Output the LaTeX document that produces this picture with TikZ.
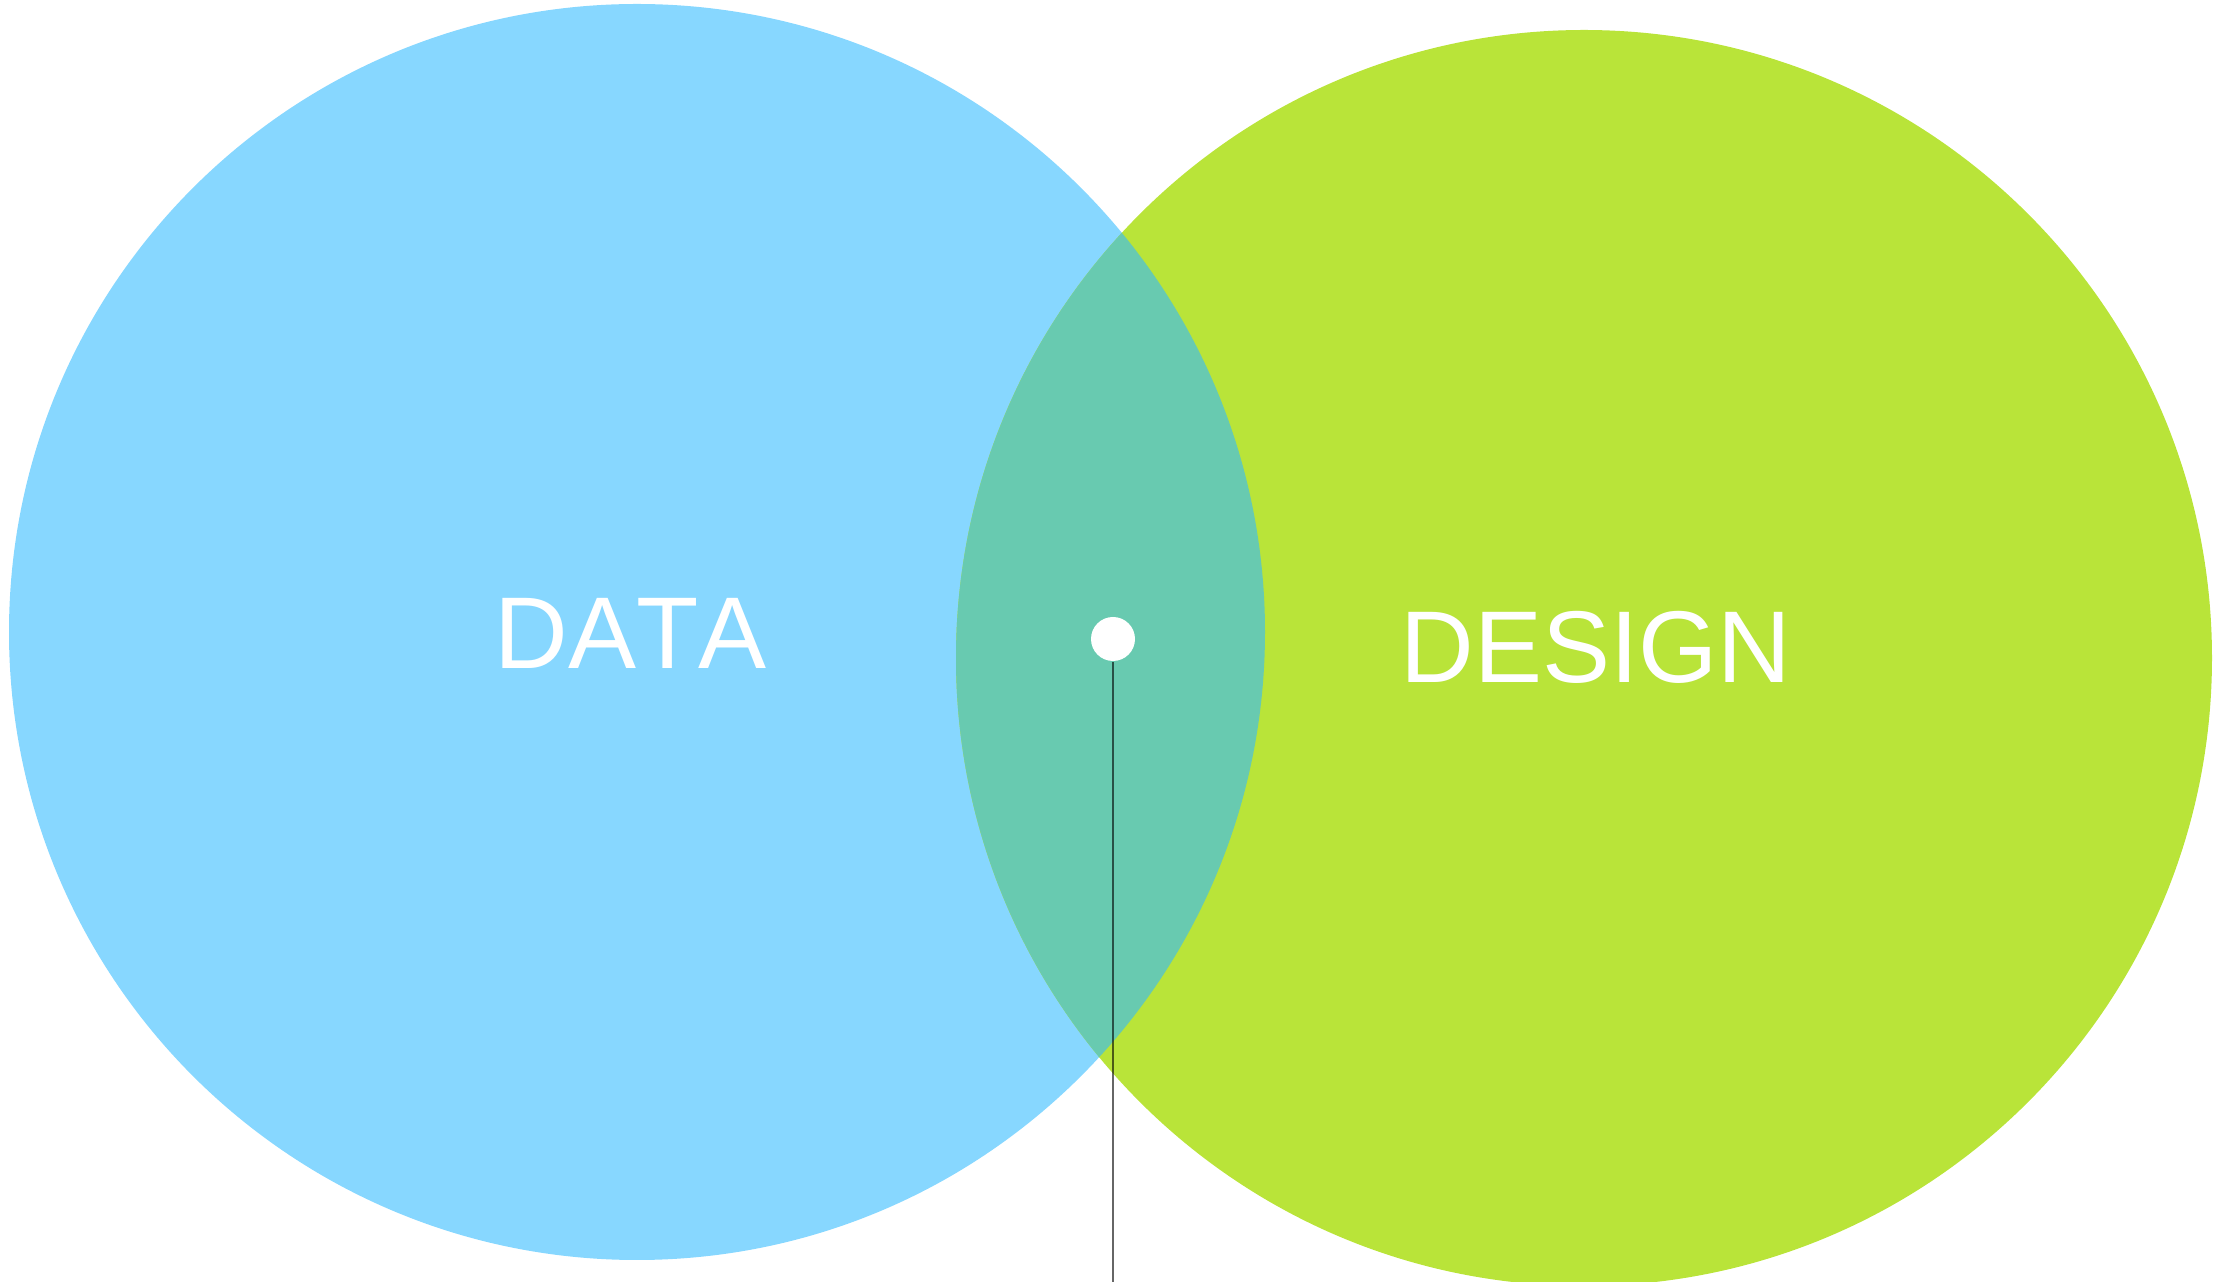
\documentclass[tikz,border=0pt]{standalone}
\usepackage{fontspec}
\setmainfont{Liberation Sans}[Kerning=Off]
\definecolor{databl}{RGB}{135,215,255}
\definecolor{designgr}{RGB}{185,228,57}
\definecolor{overlapgr}{RGB}{104,202,176}
\begin{document}
\begin{tikzpicture}[x=0.25pt,y=0.25pt,yscale=-1,xscale=1,
  set/.style={circle,inner sep=0pt,minimum size=314pt},
  setlabel/.style={text=white,inner sep=0pt,font=\fontsize{25.5}{30}\selectfont},
  pin/.style={circle,fill=white,inner sep=0pt,minimum size=11pt}]
\useasboundingbox (0,0) rectangle (2221,1282);

%=====Halmazok=======
\node [set,fill=databl] (data) at (637,632) {};
\node [set,fill=designgr] (design) at (1584,658) {};
\begin{scope}
\clip (637,632) circle [radius=628];
\fill [overlapgr] (1584,658) circle [radius=628];
\end{scope}

%=====Vonal=======
\node [pin] (dot) at (1113,639) {};
\coordinate (bottom) at (1113,1282);
\draw [black,opacity=0.6,line width=0.5pt] (dot.south) -- (bottom);

%======Felirat=========
\node [setlabel] (datalabel) at (631,633) {DATA};
\node [setlabel] (designlabel) at (1596,647) {DESIGN};

\end{tikzpicture}
\end{document}
